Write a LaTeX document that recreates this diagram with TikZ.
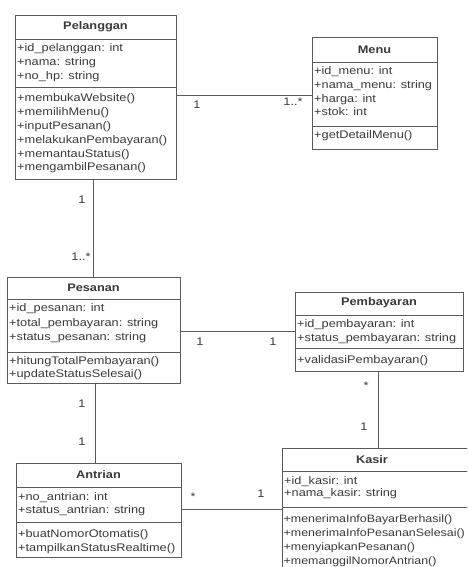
\documentclass[tikz,border=0pt]{standalone}
\usepackage{fontspec}
\setmainfont{Liberation Sans}[FakeStretch=1.16]
\definecolor{linec}{HTML}{5A5A5A}
\definecolor{txtc}{HTML}{3A3A3A}
\begin{document}
\begin{tikzpicture}[x=1pt,y=-1pt,
  box/.style={draw=linec, line width=0.8pt, inner sep=0, anchor=north west, fill=white},
  sepl/.style={draw=linec, line width=0.8pt},
  conn/.style={draw=linec, line width=0.8pt},
  ttl/.style={font=\fontsize{11}{13}\selectfont\bfseries, text=txtc, inner sep=0},
  cmp/.style={anchor=north west, inner sep=0, align=left, text=txtc},
  lbl/.style={font=\fontsize{11}{13}\selectfont, text=txtc, inner sep=0}]
\useasboundingbox (0,0) rectangle (467,567);
\clip (0,0) rectangle (467,567);
\fill[white] (0,0) rectangle (467,567);

% level coordinates for connectors
\coordinate (c95) at (0,95);
\coordinate (c331) at (0,331);
\coordinate (c509) at (0,509);
\coordinate (x93) at (93,0);
\coordinate (x95) at (95,0);
\coordinate (x378) at (378,0);

% ---------- Pelanggan ----------
\node[box, minimum width=161, minimum height=164] (pel) at (15,15) {};
\draw[sepl] (15,39) -- (176,39);
\draw[sepl] (15,87) -- (176,87);
\node[ttl] (pelT) at (95.5,27) {Pelanggan};
\node[cmp, font=\fontsize{11}{14}\selectfont] (pelA) at (17,41.9)
  {\strut+id\_pelanggan: int\\\strut+nama: string\\\strut+no\_hp: string};
\node[cmp, font=\fontsize{11}{13.8}\selectfont] (pelM) at (17,92)
  {\strut+membukaWebsite()\\\strut+memilihMenu()\\\strut+inputPesanan()\\\strut+melakukanPembayaran()\\\strut+memantauStatus()\\\strut+mengambilPesanan()};

% ---------- Menu ----------
\node[box, minimum width=125, minimum height=112] (menu) at (312,37) {};
\draw[sepl] (312,62) -- (437,62);
\draw[sepl] (312,126) -- (437,126);
\node[ttl] (menuT) at (374.5,50) {Menu};
\node[cmp, font=\fontsize{11}{13.7}\selectfont] (menuA) at (314,65.1)
  {\strut+id\_menu: int\\\strut+nama\_menu: string\\\strut+harga: int\\\strut+stok: int};
\node[cmp, font=\fontsize{11}{13.7}\selectfont] (menuM) at (314,129)
  {\strut+getDetailMenu()};

% ---------- Pesanan ----------
\node[box, minimum width=173, minimum height=106] (pes) at (7,277) {};
\draw[sepl] (7,299) -- (180,299);
\draw[sepl] (7,352) -- (180,352);
\node[ttl] (pesT) at (93.5,288) {Pesanan};
\node[cmp, font=\fontsize{11}{14.5}\selectfont] (pesA) at (9,301.5)
  {\strut+id\_pesanan: int\\\strut+total\_pembayaran: string\\\strut+status\_pesanan: string};
\node[cmp, font=\fontsize{11}{12.5}\selectfont] (pesM) at (9,356)
  {\strut+hitungTotalPembayaran()\\\strut+updateStatusSelesai()};

% ---------- Pembayaran ----------
\node[box, minimum width=168, minimum height=79] (pem) at (295,292) {};
\draw[sepl] (295,315) -- (463,315);
\draw[sepl] (295,348) -- (463,348);
\node[ttl] (pemT) at (379,303) {Pembayaran};
\node[cmp, font=\fontsize{11}{14}\selectfont] (pemA) at (297,317)
  {\strut+id\_pembayaran: int\\\strut+status\_pembayaran: string};
\node[cmp, font=\fontsize{11}{14}\selectfont] (pemM) at (297,353)
  {\strut+validasiPembayaran()};

% ---------- Antrian ----------
\node[box, minimum width=165, minimum height=94] (ant) at (16,463) {};
\draw[sepl] (16,487) -- (181,487);
\draw[sepl] (16,522) -- (181,522);
\node[ttl] (antT) at (98.5,475) {Antrian};
\node[cmp, font=\fontsize{11}{13}\selectfont] (antA) at (18,491.6)
  {\strut+no\_antrian: int\\\strut+status\_antrian: string};
\node[cmp, font=\fontsize{11}{14}\selectfont] (antM) at (18,527)
  {\strut+buatNomorOtomatis()\\\strut+tampilkanStatusRealtime()};

% ---------- Kasir ----------
\node[box, minimum width=203, minimum height=132] (kas) at (282,448) {};
\draw[sepl] (282,471) -- (485,471);
\draw[sepl] (282,507) -- (485,507);
\node[ttl] (kasT) at (372,460) {Kasir};
\node[cmp, font=\fontsize{11}{12.5}\selectfont] (kasA) at (284,475.5)
  {\strut+id\_kasir: int\\\strut+nama\_kasir: string};
\node[cmp, font=\fontsize{10.7}{14}\selectfont] (kasM) at (283.5,512)
  {\strut+menerimaInfoBayarBerhasil()\\\strut+menerimaInfoPesananSelesai()\\\strut+menyiapkanPesanan()\\\strut+memanggilNomorAntrian()};

% ---------- Connectors ----------
\draw[conn] (pel.east |- c95) -- (menu.west |- c95);
\draw[conn] (pel.south -| x93) -- (pes.north -| x93);
\draw[conn] (pes.east |- c331) -- (pem.west |- c331);
\draw[conn] (pes.south -| x95) -- (ant.north -| x95);
\draw[conn] (pem.south -| x378) -- (kas.north -| x378);
\draw[conn] (ant.east |- c509) -- (kas.west |- c509);

% ---------- Multiplicities ----------
\node[lbl] (m1) at (197,105) {1};
\node[lbl] (m2) at (293,102) {1..*};
\node[lbl] (m3) at (82,200) {1};
\node[lbl] (m4) at (81,257) {1..*};
\node[lbl] (m5) at (200,342) {1};
\node[lbl] (m6) at (273,342) {1};
\node[lbl] (m7) at (82,404) {1};
\node[lbl] (m8) at (82,442) {1};
\node[lbl] (m9) at (366,386) {*};
\node[lbl] (m10) at (364,427) {1};
\node[lbl] (m11) at (193,497) {*};
\node[lbl] (m12) at (261,494) {1};
\end{tikzpicture}
\end{document}
